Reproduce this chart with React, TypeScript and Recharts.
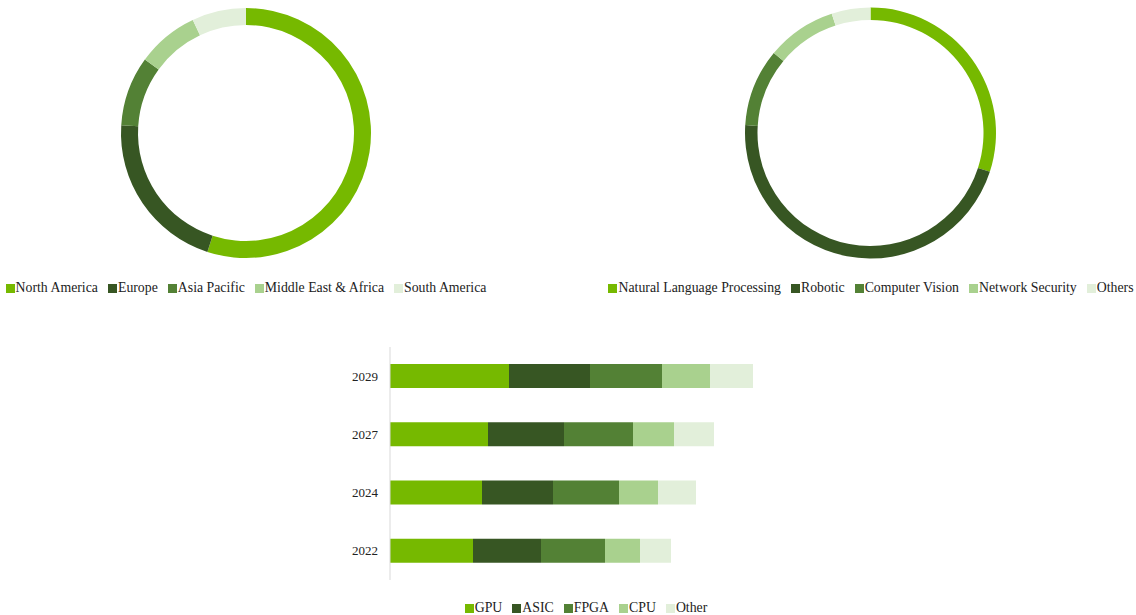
import React from "react";
import {
  PieChart,
  Pie,
  Cell,
  Legend,
  BarChart,
  Bar,
  XAxis,
  YAxis,
} from "recharts";

const COLORS = ["#76b900", "#375623", "#538135", "#a9d18e", "#e2efda"];

// regional split (%)
const regions = ["North America", "Europe", "Asia Pacific", "Middle East & Africa", "South America"];
const regionShare = [55, 21, 9, 8, 7];

// application split (%)
const applications = ["Natural Language Processing", "Robotic", "Computer Vision", "Network Security", "Others"];
const applicationShare = [30, 46, 10, 9, 5];

// market by chip type, per year
const years = ["2022", "2024", "2027", "2029"];
const chipTypes = ["GPU", "ASIC", "FPGA", "CPU", "Other"];
const gpu = [41.5, 46, 49, 59.5];
const asic = [34, 35.5, 38, 40.5];
const fpga = [32, 33, 34.5, 36];
const cpu = [17.5, 19.5, 20.5, 24];
const other = [15.5, 19, 20, 21.5];

const regionData = regions.map((name, i) => ({ name, value: regionShare[i] }));
const applicationData = applications.map((name, i) => ({ name, value: applicationShare[i] }));
const chipData = years.map((year, i) => ({
  year,
  GPU: gpu[i],
  ASIC: asic[i],
  FPGA: fpga[i],
  CPU: cpu[i],
  Other: other[i],
}));

// legend keeps the series order (recharts sorts by name otherwise)
function makeLegend(names: string[]) {
  return (props: any) => {
    const payload = names.map((n) => {
      const hit = (props.payload || []).find((p: any) => p.value === n);
      return { value: n, color: hit ? hit.color : COLORS[names.indexOf(n)] };
    });
    return (
      <div
        style={{
          display: "flex",
          justifyContent: "center",
          alignItems: "center",
          height: 20,
          fontSize: 13.8,
          color: "#222",
          whiteSpace: "nowrap",
        }}
      >
        {payload.map((entry, i) => (
          <span
            key={i}
            style={{ display: "inline-flex", alignItems: "center", marginRight: i < payload.length - 1 ? 10 : 0 }}
          >
            <span style={{ width: 9, height: 9, background: entry.color, marginRight: 1 }} />
            {entry.value}
          </span>
        ))}
      </div>
    );
  };
}

const regionLegend = makeLegend(regions);
const applicationLegend = makeLegend(applications);
const chipLegend = makeLegend(chipTypes);

export default function App() {
  return (
    <div
      style={{
        position: "absolute",
        left: 0,
        top: 0,
        width: 1136,
        height: 615,
        background: "#fff",
        fontFamily: "'Liberation Serif', 'Times New Roman', serif",
      }}
    >
      <div style={{ position: "absolute", left: 0, top: 0 }}>
        <PieChart width={492} height={300} margin={{ top: 0, right: 0, bottom: 2, left: 0 }}>
          <Pie
            data={regionData}
            dataKey="value"
            nameKey="name"
            cx={246}
            cy={133}
            innerRadius={108}
            outerRadius={125}
            startAngle={90}
            endAngle={-270}
            stroke="none"
            isAnimationActive={false}
          >
            {regionData.map((d, i) => (
              <Cell key={d.name} fill={COLORS[i]} />
            ))}
          </Pie>
          <Legend verticalAlign="bottom" height={20} content={regionLegend} />
        </PieChart>
      </div>

      <div style={{ position: "absolute", left: 608, top: 0 }}>
        <PieChart width={526} height={300} margin={{ top: 0, right: 0, bottom: 2, left: 0 }}>
          <Pie
            data={applicationData}
            dataKey="value"
            nameKey="name"
            cx={262.5}
            cy={133}
            innerRadius={113}
            outerRadius={125.5}
            startAngle={90}
            endAngle={-270}
            stroke="none"
            isAnimationActive={false}
          >
            {applicationData.map((d, i) => (
              <Cell key={d.name} fill={COLORS[i]} />
            ))}
          </Pie>
          <Legend verticalAlign="bottom" height={20} content={applicationLegend} />
        </PieChart>
      </div>

      <div style={{ position: "absolute", left: 0, top: 340 }}>
        <BarChart
          width={1136}
          height={275}
          layout="vertical"
          data={chipData}
          barSize={24}
          margin={{ top: 7, right: 346, bottom: 0, left: 330 }}
        >
          <XAxis type="number" domain={[0, 200]} hide />
          <YAxis
            type="category"
            dataKey="year"
            reversed
            width={60}
            tickLine={false}
            tickSize={6}
            tickMargin={6}
            axisLine={{ stroke: "#d9d9d9" }}
            tick={{ fill: "#222", fontSize: 13 }}
          />
          {chipTypes.map((k, i) => (
            <Bar key={k} dataKey={k} stackId="a" fill={COLORS[i]} isAnimationActive={false} />
          ))}
          <Legend
            verticalAlign="bottom"
            height={35}
            wrapperStyle={{ left: 386, width: 400 }}
            content={(p: any) => <div style={{ paddingTop: 18 }}>{chipLegend(p)}</div>}
          />
        </BarChart>
      </div>
    </div>
  );
}
